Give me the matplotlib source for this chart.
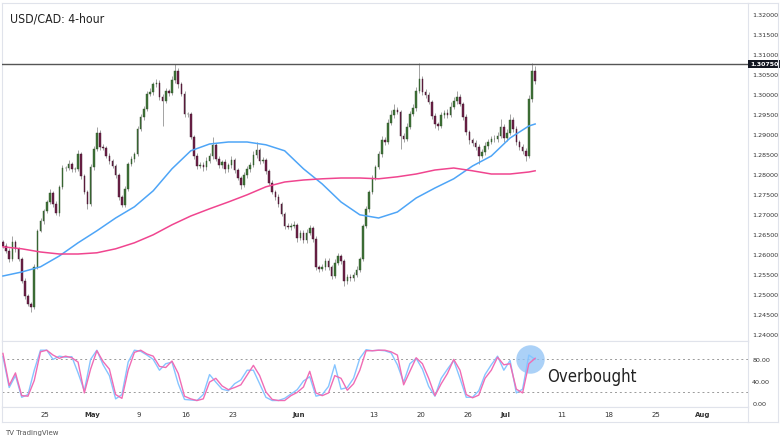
import matplotlib
matplotlib.use("Agg")
import matplotlib.pyplot as plt
import matplotlib.transforms as mtransforms
from matplotlib.lines import Line2D
import numpy as np

# USD/CAD 4h chart, read as 8-hour bars (3 per trading day), Apr 19 -> Jul 6 2022
first_open = 1.2630
close = [
    1.2620, 1.2608, 1.2588, 1.2630, 1.2612, 1.2588, 1.2532, 1.2495, 1.2475, 1.2467,
    1.2568, 1.2658, 1.2683, 1.2708, 1.2730, 1.2753, 1.2725, 1.2702, 1.2767, 1.2815,
    1.2815, 1.2825, 1.2812, 1.2812, 1.2850, 1.2795, 1.2755, 1.2725, 1.2817, 1.2862,
    1.2903, 1.2868, 1.2865, 1.2845, 1.2833, 1.2820, 1.2798, 1.2743, 1.2723, 1.2763,
    1.2825, 1.2838, 1.2850, 1.2913, 1.2942, 1.2963, 1.3000, 1.3005, 1.3025, 1.3028,
    1.2993, 1.2983, 1.3008, 1.3003, 1.3035, 1.3058, 1.3025, 1.3000, 1.2950, 1.2950,
    1.2893, 1.2845, 1.2820, 1.2823, 1.2817, 1.2833, 1.2845, 1.2873, 1.2838, 1.2823,
    1.2830, 1.2812, 1.2823, 1.2835, 1.2810, 1.2790, 1.2773, 1.2798, 1.2812, 1.2823,
    1.2848, 1.2860, 1.2833, 1.2835, 1.2808, 1.2778, 1.2755, 1.2743, 1.2725, 1.2700,
    1.2670, 1.2668, 1.2670, 1.2673, 1.2640, 1.2653, 1.2635, 1.2653, 1.2665, 1.2638,
    1.2568, 1.2563, 1.2568, 1.2583, 1.2568, 1.2545, 1.2578, 1.2595, 1.2583, 1.2532,
    1.2543, 1.2540, 1.2548, 1.2560, 1.2588, 1.2670, 1.2713, 1.2755, 1.2790, 1.2817,
    1.2850, 1.2885, 1.2880, 1.2928, 1.2948, 1.2960, 1.2955, 1.2895, 1.2888, 1.2918,
    1.2950, 1.2965, 1.3008, 1.3038, 1.3005, 1.2998, 1.2980, 1.2945, 1.2925, 1.2920,
    1.2948, 1.2953, 1.2948, 1.2968, 1.2983, 1.2993, 1.2975, 1.2942, 1.2905, 1.2885,
    1.2878, 1.2868, 1.2845, 1.2855, 1.2870, 1.2880, 1.2888, 1.2888, 1.2895, 1.2918,
    1.2890, 1.2903, 1.2935, 1.2913, 1.2880, 1.2868, 1.2858, 1.2845, 1.2988, 1.3058,
    1.3033,
]
# wick lengths above / below the body, in pips
upper_pips = [
    5, 8, 6, 15, 4, 6, 5, 7, 4, 5,
    6, 5, 8, 4, 6, 9, 5, 7, 6, 8,
    5, 9, 6, 5, 10, 6, 4, 5, 7, 8,
    15, 6, 8, 5, 7, 4, 6, 5, 4, 7,
    6, 8, 5, 7, 9, 6, 8, 10, 6, 9,
    7, 6, 8, 5, 9, 17, 6, 5, 8, 4,
    6, 5, 7, 8, 6, 9, 7, 20, 5, 8,
    6, 7, 5, 9, 6, 5, 4, 8, 7, 6,
    10, 20, 6, 8, 5, 4, 6, 5, 7, 4,
    6, 8, 7, 9, 5, 8, 6, 10, 7, 5,
    6, 5, 8, 7, 6, 5, 9, 8, 6, 4,
    7, 6, 8, 9, 5, 6, 7, 5, 8, 6,
    7, 10, 8, 9, 12, 15, 8, 6, 7, 9,
    8, 10, 9, 39, 7, 8, 6, 5, 7, 6,
    8, 7, 9, 12, 10, 14, 6, 5, 7, 6,
    5, 7, 6, 8, 9, 7, 8, 9, 10, 20,
    6, 9, 15, 7, 6, 5, 8, 6, 10, 20,
    12,
]
lower_pips = [
    6, 5, 8, 5, 7, 6, 5, 8, 6, 12,
    5, 6, 4, 7, 5, 6, 8, 5, 6, 4,
    7, 5, 6, 8, 5, 7, 6, 12, 5, 6,
    5, 7, 6, 5, 8, 6, 7, 9, 5, 6,
    5, 6, 7, 5, 6, 8, 5, 6, 7, 8,
    9, 63, 6, 8, 5, 7, 9, 6, 8, 7,
    6, 8, 7, 5, 9, 6, 5, 7, 6, 8,
    7, 9, 6, 8, 7, 6, 10, 5, 7, 6,
    5, 7, 8, 6, 7, 5, 6, 8, 7, 6,
    8, 6, 7, 5, 9, 6, 8, 7, 6, 9,
    7, 8, 6, 9, 7, 8, 6, 5, 7, 12,
    6, 8, 7, 5, 6, 5, 6, 7, 5, 6,
    5, 7, 8, 6, 5, 7, 6, 32, 8, 6,
    5, 6, 7, 6, 8, 7, 6, 8, 9, 10,
    6, 8, 7, 6, 5, 7, 6, 8, 7, 9,
    8, 7, 20, 6, 8, 7, 6, 8, 7, 6,
    9, 7, 6, 8, 7, 9, 8, 12, 6, 7,
    8,
]

# moving averages, one reading every 6 bars
ma_step = 6
sma100 = [1.2545, 1.2555, 1.2568, 1.2595, 1.2628, 1.2658, 1.2690, 1.2718, 1.2758, 1.2813,
          1.2858, 1.2875, 1.2880, 1.2880, 1.2873, 1.2858, 1.2813, 1.2775, 1.2730, 1.2698,
          1.2690, 1.2705, 1.2740, 1.2765, 1.2788, 1.2820, 1.2845, 1.2890, 1.2920, 1.2925]
sma200 = [1.2618, 1.2613, 1.2605, 1.2600, 1.2600, 1.2603, 1.2613, 1.2628, 1.2648, 1.2673,
          1.2695, 1.2713, 1.2730, 1.2748, 1.2768, 1.2780, 1.2785, 1.2788, 1.2790, 1.2790,
          1.2788, 1.2793, 1.2800, 1.2810, 1.2815, 1.2808, 1.2800, 1.2800, 1.2805, 1.2808]

# stochastic, one reading every 2 bars
stoch_step = 2
stoch_k = [85, 28, 50, 10, 15, 60, 97, 97, 80, 86,
           84, 85, 55, 22, 80, 97, 70, 50, 7, 15,
           75, 97, 95, 88, 80, 60, 72, 75, 35, 6,
           5, 4, 15, 52, 38, 25, 22, 35, 42, 60,
           60, 35, 10, 4, 4, 8, 16, 24, 40, 48,
           12, 15, 30, 70, 25, 28, 45, 82, 98, 96,
           97, 96, 92, 70, 38, 72, 82, 62, 30, 12,
           45, 62, 78, 45, 10, 10, 22, 52, 70, 86,
           60, 78, 18, 25, 88, 80]
stoch_d = [91, 32, 55, 13, 12, 41, 94, 97, 88, 82,
           86, 83, 75, 18, 62, 96, 76, 62, 15, 8,
           60, 93, 97, 90, 86, 67, 65, 77, 54, 12,
           7, 4, 7, 38, 45, 31, 24, 28, 33, 51,
           69, 50, 20, 6, 4, 4, 13, 19, 29, 58,
           18, 13, 18, 50, 45, 23, 35, 60, 96, 96,
           97, 97, 94, 88, 33, 58, 83, 72, 45, 13,
           35, 54, 80, 60, 15, 9, 14, 45, 60, 84,
           70, 72, 25, 18, 72, 82]

resistance = 1.3075
price_ticks = [1.32, 1.315, 1.31, 1.305, 1.30, 1.295, 1.29, 1.285, 1.28,
               1.275, 1.27, 1.265, 1.26, 1.255, 1.25, 1.245, 1.24]
stoch_ticks = [80, 40, 0]

# date axis: trading days after Apr 25
date_labels = ["25", "May", "9", "16", "23", "Jun", "13", "20", "26", "Jul", "11", "18", "25", "Aug"]
date_days = [0, 5, 10, 15, 20, 27, 35, 40, 45, 49, 55, 60, 65, 70]
months = ["May", "Jun", "Jul", "Aug"]
bars_per_day = 3
apr25_bar = 13.5

W, H = 780, 439
fig = plt.figure(figsize=(W / 100, H / 100), dpi=100)
fig.patch.set_facecolor("white")
border = "#e0e3eb"


def px_axes(x0, y0, x1, y1):
    return fig.add_axes([x0 / W, 1 - y1 / H, (x1 - x0) / W, (y1 - y0) / H])


xlim = (-0.3, 238)
ax = px_axes(2, 4, 748, 342)
osc = px_axes(2, 342, 748, 408)
dax = px_axes(2, 408, 748, 423)

close = np.array(close)
opens = np.concatenate([[first_open], close[:-1]])
highs = np.maximum(opens, close) + np.array(upper_pips) * 1e-4
lows = np.minimum(opens, close) - np.array(lower_pips) * 1e-4
bars = np.arange(len(close))
up = close >= opens

ax.vlines(bars, lows, highs, color="#a3a3a3", lw=0.7, zorder=2)
ax.bar(bars[up], (close - opens)[up], bottom=opens[up], width=0.5,
       color="#3f7338", edgecolor="#2d5228", lw=0.3, zorder=3)
ax.bar(bars[~up], (close - opens)[~up], bottom=opens[~up], width=0.5,
       color="#702249", edgecolor="#3d1228", lw=0.3, zorder=3)

ma_x = np.minimum(np.arange(len(sma100)) * ma_step, len(close) - 1)
ax.plot(ma_x, sma100, color="#4ea5f7", lw=1.1, zorder=4)
ax.plot(ma_x, sma200, color="#f0458f", lw=1.1, zorder=4)

ax.axhline(resistance, color="#555555", lw=1.0, zorder=5)

ax.set_xlim(*xlim)
ax.set_ylim(1.23825, 1.32275)
ax.set_xticks([])
ax.yaxis.tick_right()
ax.set_yticks(price_ticks)
ax.set_yticklabels([f"{p:.5f}" for p in price_ticks])
ax.tick_params(axis="y", length=0, pad=3, labelsize=4.6, labelcolor="#333333")

trans = mtransforms.blended_transform_factory(ax.transAxes, ax.transData)
ax.text(1.0025, resistance, f"{resistance:.5f}", transform=trans, ha="left", va="center",
        fontsize=4.5, color="white", fontweight="bold",
        bbox=dict(boxstyle="square,pad=0.22", fc="#131722", ec="none"), zorder=6)

# stochastic panel
sx = np.arange(len(stoch_k)) * stoch_step
osc.plot(sx, stoch_k, color="#86c5ff", lw=1.0, zorder=3)
osc.plot(sx, stoch_d, color="#f06cb4", lw=1.0, zorder=4)
for lv in (80, 20):
    osc.axhline(lv, color="#9a9a9a", lw=0.7, ls=(0, (2, 3)), zorder=1)
osc.scatter([sx[-1] - 1.5], [81], s=420, color="#8fc2f5", alpha=0.75, lw=0, zorder=2)
osc.set_xlim(*xlim)
osc.set_ylim(-8, 114)
osc.set_xticks([])
osc.yaxis.tick_right()
osc.set_yticks(stoch_ticks)
osc.set_yticklabels([f"{v:.2f}" for v in stoch_ticks])
osc.tick_params(axis="y", length=0, pad=3, labelsize=4.6, labelcolor="#333333")

# date strip
dax.set_xlim(*xlim)
dax.set_ylim(0, 1)
dax.set_xticks([])
dax.set_yticks([])
for lab, d in zip(date_labels, date_days):
    dax.text(apr25_bar + d * bars_per_day, 0.5, lab, ha="center", va="center",
             fontsize=5.0, color="#333333",
             fontweight="bold" if lab in months else "normal")

for a in (ax, osc, dax):
    for s in a.spines.values():
        s.set_color(border)
        s.set_linewidth(0.8)

fig.add_artist(Line2D([748 / W, 778 / W], [1 - 423 / H, 1 - 423 / H], color=border, lw=0.8))
fig.add_artist(Line2D([778 / W, 778 / W], [1 - 4 / H, 1 - 423 / H], color=border, lw=0.8))
fig.add_artist(Line2D([748 / W, 778 / W], [1 - 4 / H, 1 - 4 / H], color=border, lw=0.8))

fig.text(10 / W, 1 - 19 / H, "USD/CAD: 4-hour", fontsize=8.8, color="#222222",
         family="DejaVu Sans", stretch="condensed", ha="left", va="center")
fig.text(547 / W, 1 - 377 / H, "Overbought", fontsize=12, color="#222222",
         family="DejaVu Sans", stretch="condensed", ha="left", va="center")
fig.text(5 / W, 1 - 433 / H, "TV TradingView", fontsize=5, color="#555555",
         ha="left", va="center")

fig.savefig("out.png", dpi=100, facecolor="white")
